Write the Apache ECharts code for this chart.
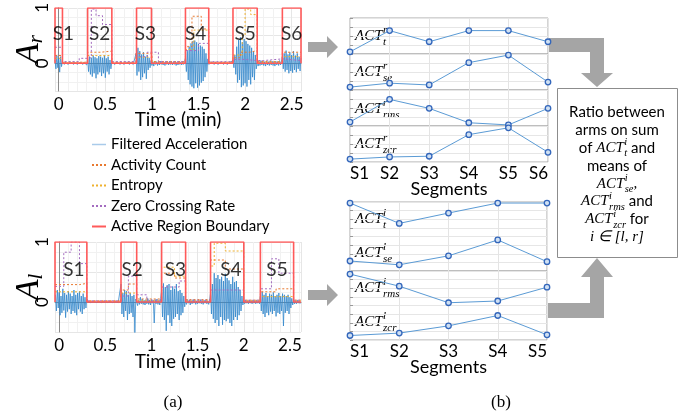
<!DOCTYPE html>
<html>
<head>
<meta charset="utf-8">
<script src="https://cdn.jsdelivr.net/npm/echarts@6/dist/echarts.min.js"></script>
<style>
  html, body { margin: 0; padding: 0; background: #fff; }
  #main { width: 686px; height: 416px; }
</style>
</head>
<body>
<div id="main"></div>
<script>
// ---------- data ----------
// filtered acceleration, one value every 0.01 min starting at -0.04 min
var accStart = -0.04, accStep = 0.01;
var accR = [0.06,-0.1,0.14,-0.08,0.1,-0.16,0.12,-0.06,0.04,
  0.01,-0.02,0.02,-0.01,0.01,-0.02,0.01,-0.01,0.02,-0.01,0.01,-0.02,0.02,-0.01,0.01,-0.02,0.01,-0.01,0.02,-0.01,0.01,-0.02,0.02,-0.01,0.03,-0.03,
  0.08,-0.15,0.12,-0.2,0.1,-0.24,0.14,-0.18,0.11,-0.27,0.09,-0.2,0.13,-0.16,0.12,-0.23,0.1,-0.18,0.14,-0.26,0.09,-0.15,0.12,-0.2,0.06,-0.1,
  0.02,-0.01,0.01,-0.02,0.01,-0.01,0.02,-0.01,0.01,-0.02,0.02,-0.01,0.01,-0.02,0.01,-0.01,0.02,-0.01,0.01,-0.02,0.02,-0.01,0.01,-0.02,0.01,-0.01,
  0.18,-0.22,0.28,-0.15,0.22,-0.3,0.16,-0.25,0.2,-0.18,0.12,-0.28,0.15,-0.12,0.1,-0.08,
  0.05,-0.04,0.03,-0.05,0.04,-0.02,0.03,-0.04,0.02,-0.03,0.04,-0.02,0.03,-0.03,0.02,-0.04,0.03,-0.02,0.02,-0.03,0.04,-0.02,0.03,-0.03,0.02,-0.02,0.03,-0.04,0.02,-0.03,0.03,-0.02,0.02,-0.03,0.02,-0.02,0.03,
  0.1,-0.15,0.22,-0.3,0.3,-0.38,0.36,-0.42,0.4,-0.45,0.41,-0.36,0.38,-0.44,0.35,-0.4,0.32,-0.35,0.3,-0.32,0.26,-0.25,0.18,-0.15,0.08,
  -0.02,0.01,-0.01,0.02,-0.01,0.01,-0.02,0.02,-0.01,0.01,-0.02,0.01,-0.01,0.02,-0.01,0.01,-0.02,0.02,-0.01,0.01,-0.02,0.01,-0.01,0.02,-0.01,0.01,
  0.05,-0.08,0.15,-0.2,0.3,-0.35,0.42,-0.3,0.47,-0.43,0.38,-0.4,0.44,-0.36,0.4,-0.42,0.35,-0.3,0.32,-0.38,0.28,-0.25,0.22,-0.3,0.15,-0.1,
  0.04,-0.05,0.03,-0.04,0.05,-0.03,0.04,-0.04,0.03,-0.05,0.04,-0.03,0.03,-0.04,0.05,-0.03,0.04,-0.04,0.03,-0.05,0.04,-0.03,0.03,-0.04,0.05,-0.03,0.04,
  0.12,-0.1,0.18,-0.15,0.23,-0.12,0.16,-0.18,0.2,-0.14,0.15,-0.17,0.22,-0.12,0.14,-0.16,0.18,-0.1,0.12,-0.14,0.1];
var accL = [0.12,-0.15,0.2,-0.1,0.16,-0.22,0.1,-0.18,0.22,-0.14,0.15,-0.26,0.12,-0.16,0.18,-0.12,0.14,-0.2,0.1,-0.15,0.2,-0.18,0.12,-0.22,0.15,-0.12,0.18,-0.16,0.1,-0.2,0.14,-0.12,0.08,-0.1,0.05,
  0.01,-0.01,0.01,-0.01,0.01,-0.01,0.01,-0.01,0.01,-0.01,0.01,-0.01,0.01,-0.01,0.01,-0.01,0.01,-0.01,0.01,-0.01,0.01,-0.01,0.01,-0.01,0.01,-0.01,0.01,-0.01,0.01,-0.01,0.01,-0.01,0.01,-0.01,0.01,-0.01,
  0.3,-0.2,0.15,-0.25,0.2,-0.15,0.18,-0.3,0.12,-0.2,0.15,-0.18,0.1,-0.25,0.12,-0.52,0.05,
  0.04,-0.06,0.03,-0.04,0.08,-0.03,0.05,-0.04,0.03,-0.05,0.04,-0.03,0.06,-0.04,0.03,-0.05,0.04,-0.02,0.03,-0.35,0.04,-0.03,0.05,-0.04,0.03,-0.05,0.06,
  0.2,-0.25,0.31,-0.3,0.25,-0.48,0.28,-0.22,0.3,-0.35,0.2,-0.4,0.26,-0.28,0.22,-0.25,0.3,-0.2,0.18,-0.3,0.2,-0.22,0.15,-0.18,0.1,-0.08,
  0.03,-0.04,0.04,-0.02,0.03,-0.05,0.02,-0.03,0.04,-0.02,0.03,-0.04,0.02,-0.03,0.03,-0.02,0.04,-0.03,0.02,-0.04,0.03,-0.02,0.03,-0.03,0.02,-0.04,0.03,
  0.15,-0.2,0.3,-0.28,0.48,-0.35,0.4,-0.3,0.45,-0.4,0.38,-0.25,0.42,-0.38,0.35,-0.3,0.47,-0.32,0.4,-0.28,0.36,-0.35,0.3,-0.4,0.42,-0.3,0.33,-0.25,0.35,-0.3,0.25,-0.22,0.2,-0.15,0.1,-0.05,
  0.02,-0.03,0.03,-0.02,0.02,-0.03,0.03,-0.02,0.02,-0.03,0.03,-0.02,0.02,-0.03,0.03,-0.02,0.02,-0.03,
  0.1,-0.15,0.17,-0.2,0.12,-0.25,0.15,-0.18,0.1,-0.22,0.14,-0.16,0.12,-0.2,0.16,-0.15,0.1,-0.24,0.12,-0.18,0.15,-0.2,0.1,-0.15,0.14,-0.4,0.12,-0.18,0.1,-0.15,0.12,-0.2,0.08,-0.1,0.06,-0.05,
  0.03,-0.03,0.02,-0.03,0.03,-0.02,0.02,-0.03];

// active regions [start, end] in minutes
var activeR = [[-0.04,0.04],[0.31,0.57],[0.835,0.995],[1.36,1.61],[1.87,2.13],[2.40,2.6]];
var activeL = [[-0.045,0.30],[0.67,0.84],[1.11,1.37],[1.64,2.0],[2.18,2.54]];

// step features [time, value], value held until the next time
var countR = [[-0.04,0.14],[0.04,0.02],[0.31,0.2],[0.45,0.22],[0.57,0.02],[0.83,0.18],[1.0,0.03],[1.36,0.3],[1.43,0.85],[1.53,0.62],[1.61,0.02],[1.87,0.1],[1.95,0.2],[2.05,0.23],[2.13,0.03],[2.40,0.2],[2.6,0.2]];
var entropyR = [[-0.04,0.09],[0.04,0.01],[0.31,0.14],[0.57,0.01],[0.83,0.11],[1.0,0.02],[1.36,0.25],[1.45,0.6],[1.61,0.01],[1.87,0.15],[1.97,0.5],[2.0,0.98],[2.06,0.88],[2.13,0.02],[2.40,0.12],[2.6,0.12]];
var zcrR = [[-0.04,0.29],[0.04,0.03],[0.22,0.09],[0.31,0.1],[0.35,0.98],[0.40,0.86],[0.47,0.7],[0.57,0.03],[0.83,0.12],[0.95,0.2],[1.07,0.03],[1.36,0.23],[1.5,0.36],[1.61,0.03],[1.87,0.07],[2.0,0.05],[2.13,0.05],[2.20,0.08],[2.40,0.05],[2.6,0.05]];
var countL = [[-0.045,0.29],[0.22,0.31],[0.30,0.02],[0.67,0.2],[0.75,0.3],[0.84,0.05],[1.11,0.48],[1.25,0.4],[1.37,0.04],[1.64,0.7],[1.8,0.55],[2.0,0.03],[2.18,0.17],[2.35,0.22],[2.54,0.03],[2.62,0.03]];
var entropyL = [[-0.045,0.17],[0.30,0.01],[0.67,0.15],[0.84,0.02],[1.11,0.58],[1.25,0.43],[1.37,0.02],[1.64,0.6],[1.68,0.98],[1.8,0.85],[2.0,0.02],[2.18,0.09],[2.54,0.02],[2.62,0.02]];
var zcrL = [[-0.045,0.26],[0.05,0.83],[0.13,1.0],[0.22,0.64],[0.30,0.02],[0.67,0.1],[0.75,0.43],[0.84,0.12],[0.95,0.03],[1.11,0.25],[1.3,0.35],[1.37,0.03],[1.64,0.2],[2.0,0.03],[2.18,0.22],[2.3,0.72],[2.38,0.48],[2.54,0.03],[2.62,0.03]];

// segment labels inside the signal plots
var segR = ['S1','S2','S3','S4','S5','S6'];
var segL = ['S1','S2','S3','S4','S5'];
var segLabelTimeR = [0.05,0.44,0.93,1.47,2.0,2.5];
var segLabelTimeL = [0.16,0.79,1.26,1.86,2.36];

// per-segment activity features (normalised within each panel)
var actTR   = [0.06,0.65,0.34,0.65,0.65,0.34];
var actSeR  = [0.08,0.19,0.14,0.76,0.97,0.22];
var actRmsR = [0.11,0.74,0.49,0.09,0.03,0.49];
var actZcrR = [0.08,0.14,0.16,0.76,0.95,0.27];
var actTL   = [0.97,0.38,0.68,0.97,0.97];
var actSeL  = [0.29,0.18,0.44,0.90,0.27];
var actRmsL = [0.91,0.56,0.08,0.13,0.53];
var actZcrL = [0.13,0.20,0.41,0.71,0.15];

var timeTicks = [0,0.5,1,1.5,2,2.5];

// ---------- styles ----------
var SANS = 'Lato';
var SERIF = 'Liberation Serif';
var BLUE = '#3388cc', ORANGE = '#e8792f', YELLOW = '#efb12f', PURPLE = '#a46cc0', RED = '#ff5a5a';

var chart = echarts.init(document.getElementById('main'));

function accData(vals) {
  return vals.map(function (v, i) { return [accStart + i * accStep, v]; });
}
function boundaryData(segs, xmax) {
  var pts = [];
  segs.forEach(function (s) {
    pts.push([s[0], 0], [s[0], 1], [s[1], 1], [s[1], 0]);
  });
  pts.push([xmax, 0]);
  return pts;
}

var grids = [], xAxes = [], yAxes = [], series = [];

function signalPlot(top, height, xmin, xmax, sub, acc, count, ent, zcr, active, labT, labN, nameGap) {
  var g = grids.length;
  grids.push({left: 55, top: top, width: 246, height: height});
  xAxes.push({
    gridIndex: g, type: 'value', min: xmin, max: xmax,
    axisLine: {lineStyle: {color: '#8a8a8a'}}, axisTick: {show: false},
    axisLabel: {customValues: timeTicks, color: '#000', fontFamily: SANS, fontSize: 17, margin: 5},
    splitLine: {show: true, lineStyle: {color: '#e6e6e6'}},
    minorTick: {show: false, splitNumber: 5},
    minorSplitLine: {show: true, lineStyle: {color: '#f1f1f1'}},
    name: 'Time (min)', nameLocation: 'middle', nameGap: nameGap, nameMoveOverlap: false,
    nameTextStyle: {color: '#000', fontFamily: SANS, fontSize: 19}
  });
  yAxes.push({
    gridIndex: g, type: 'value', min: -0.5, max: 1, interval: 0.5,
    axisLine: {show: true, lineStyle: {color: '#8a8a8a'}}, axisTick: {show: false},
    axisLabel: {rotate: 90, color: '#000', fontFamily: SANS, fontSize: 17, margin: 4,
      formatter: function (v) { return (v === 0 || v === 1) ? String(v) : ''; }},
    splitLine: {show: true, lineStyle: {color: '#e6e6e6'}},
    minorTick: {show: false, splitNumber: 3},
    minorSplitLine: {show: true, lineStyle: {color: '#f1f1f1'}},
    name: '{a|A}{s|' + sub + '}', nameLocation: 'middle', nameRotate: 90, nameGap: 8,
    nameMoveOverlap: false,
    nameTextStyle: {rich: {
      a: {fontFamily: SERIF, fontStyle: 'italic', fontSize: 34, color: '#000'},
      s: {fontFamily: SERIF, fontStyle: 'italic', fontSize: 21, color: '#000', padding: [14, 0, 0, 0]}
    }}
  });
  var base = {type: 'line', xAxisIndex: g, yAxisIndex: g, symbol: 'none', animation: false};
  series.push(Object.assign({}, base, {name: 'Filtered Acceleration', data: accData(acc),
    lineStyle: {color: BLUE, width: 0.8}, itemStyle: {color: BLUE}, z: 2}));
  series.push(Object.assign({}, base, {name: 'Activity Count', step: 'end', data: count,
    lineStyle: {color: ORANGE, width: 1, type: [2, 2]}, itemStyle: {color: ORANGE}, z: 3}));
  series.push(Object.assign({}, base, {name: 'Entropy', step: 'end', data: ent,
    lineStyle: {color: YELLOW, width: 1, type: [2, 2]}, itemStyle: {color: YELLOW}, z: 3}));
  series.push(Object.assign({}, base, {name: 'Zero Crossing Rate', step: 'end', data: zcr,
    lineStyle: {color: PURPLE, width: 1, type: [2, 2]}, itemStyle: {color: PURPLE}, z: 3}));
  series.push(Object.assign({}, base, {name: 'Active Region Boundary', data: boundaryData(active, xmax),
    lineStyle: {color: RED, width: 1.6}, itemStyle: {color: RED}, z: 4}));
  series.push({type: 'scatter', xAxisIndex: g, yAxisIndex: g, symbolSize: 1, animation: false, z: 5,
    itemStyle: {color: 'rgba(0,0,0,0)'}, silent: true,
    label: {show: true, position: 'inside', formatter: '{b}', color: '#000', fontFamily: SANS, fontSize: 19},
    data: labT.map(function (t, i) { return {name: labN[i], value: [t, 0.53]}; })
  });
}

signalPlot(7, 84, -0.04, 2.6, 'r', accR, countR, entropyR, zcrR, activeR, segLabelTimeR, segR, 19);
signalPlot(242, 90, -0.045, 2.62, 'l', accL, countL, entropyL, zcrL, activeL, segLabelTimeL, segL, 20);

function featurePanels(tops, h, width, cats, lists, nameGap) {
  lists.forEach(function (vals, k) {
    var g = grids.length, last = k === lists.length - 1;
    grids.push({left: 350, top: tops[k], width: width, height: h, show: true,
      borderColor: '#a9a9a9', borderWidth: 1, backgroundColor: '#fff'});
    xAxes.push({
      gridIndex: g, type: 'category', data: cats, boundaryGap: false,
      axisLine: {show: false}, axisTick: {show: false},
      axisLabel: {show: last, color: '#000', fontFamily: SANS, fontSize: 17, margin: 3,
        alignMinLabel: 'left', alignMaxLabel: 'right'},
      splitLine: {show: true, lineStyle: {color: '#e4e4e4'}},
      name: last ? 'Segments' : '', nameLocation: 'middle', nameGap: nameGap, nameMoveOverlap: false,
      nameTextStyle: {color: '#000', fontFamily: SANS, fontSize: 18}
    });
    yAxes.push({
      gridIndex: g, type: 'value', min: 0, max: 1, interval: 0.25,
      axisLine: {show: false}, axisLabel: {show: false},
      axisTick: {show: true, inside: true, length: 3, lineStyle: {color: '#999'}},
      splitLine: {show: true, lineStyle: {color: '#e6e6e6'}}
    });
    series.push({type: 'line', xAxisIndex: g, yAxisIndex: g, data: vals, animation: false,
      symbol: 'circle', symbolSize: 5.5, showSymbol: true, clip: false,
      lineStyle: {color: '#5b9bd5', width: 1},
      itemStyle: {color: '#cfe0f3', borderColor: '#3366bb', borderWidth: 1.3}, z: 3});
  });
}
featurePanels([18, 54, 90, 126], 36, 198, segR, [actTR, actSeR, actRmsR, actZcrR], 18);
featurePanels([202, 236.5, 271, 305.5], 34.5, 197, segL, [actTL, actSeL, actRmsL, actZcrL], 18);

// ---------- annotations ----------
var ctx = document.createElement('canvas').getContext('2d');
function textW(s, font) { ctx.font = font; return ctx.measureText(s).width; }

var fN = '15px ' + SANS;
var fM = 'italic 15px "' + SERIF + '"';
var fS = 'italic 10.5px "' + SERIF + '"';

function txt(x, y, s, font, align) {
  return {type: 'text', x: x, y: y, silent: true,
    style: {text: s, font: font, fill: '#000', align: align || 'left', verticalAlign: 'middle'}};
}
// "ACT" with a superscript and subscript stacked after it
function actParts(x, y, sup, sub, fontM, fontS, dy) {
  var w = textW('ACT', fontM);
  return [txt(x, y, 'ACT', fontM), txt(x + w + 0.5, y - dy, sup, fontS), txt(x + w + 0.5, y + dy, sub, fontS)];
}
function actWidth(sup, sub) {
  return textW('ACT', fM) + 0.5 + Math.max(textW(sup, fS), textW(sub, fS));
}
// one centred line of the text box built from plain, math and ACT pieces
function mathLine(cx, y, parts) {
  var widths = parts.map(function (p) {
    if (p.act) return actWidth(p.sup, p.sub);
    return textW(p.s, p.m ? fM : fN);
  });
  var total = widths.reduce(function (a, b) { return a + b; }, 0);
  var x = cx - total / 2, out = [];
  parts.forEach(function (p, i) {
    if (p.act) out = out.concat(actParts(x, y, p.sup, p.sub, fM, fS, 5.5));
    else out.push(txt(x, y, p.s, p.m ? fM : fN));
    x += widths[i];
  });
  return out;
}

var graphics = [];
var ARROW = '#a5a5a5';
// arrows
graphics.push({type: 'polygon', shape: {points: [[308,42],[327,42],[327,36],[338,47],[327,58],[327,52],[308,52]]}, style: {fill: ARROW}, silent: true});
graphics.push({type: 'polygon', shape: {points: [[308,290],[327,290],[327,284],[338,295],[327,306],[327,300],[308,300]]}, style: {fill: ARROW}, silent: true});
graphics.push({type: 'polygon', shape: {points: [[549,38],[604,38],[604,73],[613,73],[597,87],[581,73],[590,73],[590,52],[549,52]]}, style: {fill: ARROW}, silent: true});
graphics.push({type: 'polygon', shape: {points: [[548,318],[604,318],[604,277],[613,277],[597,258],[581,277],[590,277],[590,303],[548,303]]}, style: {fill: ARROW}, silent: true});

// text box
graphics.push({type: 'rect', shape: {x: 557.5, y: 88.5, width: 120, height: 169}, style: {fill: '#fff', stroke: '#8c8c8c', lineWidth: 1}, silent: true});
var boxLines = [
  [{s: 'Ratio between'}],
  [{s: 'arms on sum'}],
  [{s: 'of '}, {act: true, sup: 'i', sub: 't'}, {s: ' and'}],
  [{s: 'means of'}],
  [{act: true, sup: 'i', sub: 'se'}, {s: ',', m: true}],
  [{act: true, sup: 'i', sub: 'rms'}, {s: ' and'}],
  [{act: true, sup: 'i', sub: 'zcr'}, {s: ' for'}],
  [{s: 'i \u2208 [l, r]', m: true}]
];
boxLines.forEach(function (parts, k) {
  graphics = graphics.concat(mathLine(617, 112 + k * 17.9, parts));
});

// ACT labels in the feature panels
var fL = 'italic 15px "' + SERIF + '"', fLs = 'italic 11px "' + SERIF + '"';
var subsR = ['t', 'se', 'rms', 'zcr'];
[36, 72, 109, 144].forEach(function (y, k) { graphics = graphics.concat(actParts(355, y, 'r', subsR[k], fL, fLs, 6)); });
[219, 253.5, 288, 322.5].forEach(function (y, k) { graphics = graphics.concat(actParts(355, y, 'l', subsR[k], fL, fLs, 6)); });

// captions
graphics.push(txt(173, 403, '(a)', '17px "' + SERIF + '"', 'center'));
graphics.push(txt(501, 403, '(b)', '17px "' + SERIF + '"', 'center'));

var option = {
  animation: false,
  backgroundColor: '#fff',
  legend: {
    orient: 'vertical', left: 86, top: 132, itemWidth: 14, itemHeight: 10, itemGap: 5.5,
    selectedMode: false,
    itemStyle: {opacity: 0},
    textStyle: {color: '#000', fontFamily: SANS, fontSize: 15},
    data: [
      {name: 'Filtered Acceleration', itemStyle: {opacity: 0}, lineStyle: {color: '#a9cbea', width: 1.5}},
      {name: 'Activity Count'},
      {name: 'Entropy'},
      {name: 'Zero Crossing Rate'},
      {name: 'Active Region Boundary'}
    ]
  },
  grid: grids,
  xAxis: xAxes,
  yAxis: yAxes,
  series: series,
  graphic: graphics
};
chart.setOption(option);
</script>
</body>
</html>
